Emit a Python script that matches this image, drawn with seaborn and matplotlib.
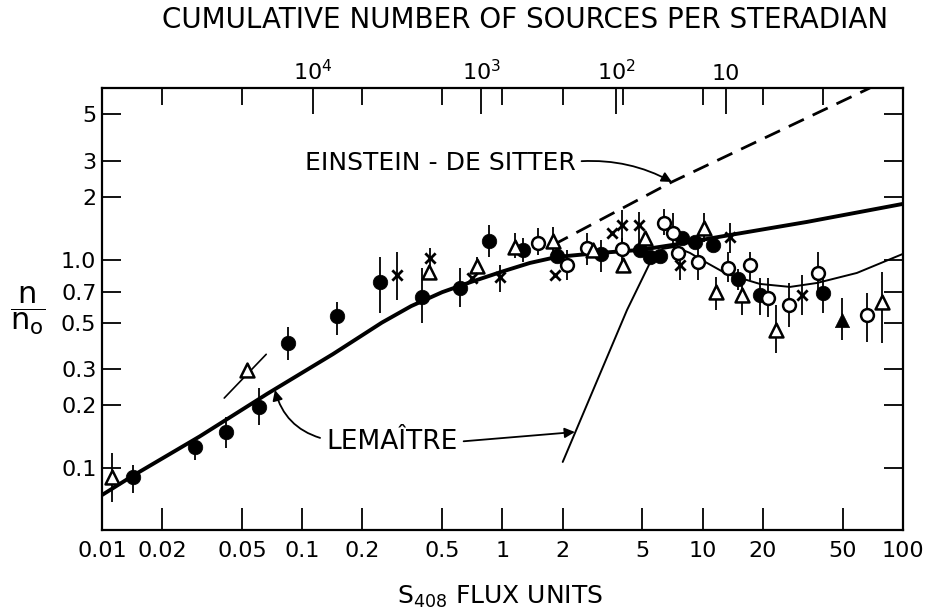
import matplotlib
matplotlib.use("Agg")
import matplotlib.pyplot as plt
import numpy as np
import pandas as pd
import seaborn as sns
from matplotlib.ticker import FixedLocator, NullLocator, NullFormatter

nan = float("nan")

# --- curves (S408 flux units, n/n0) ---
lemaitre_s = [0.0100, 0.0143, 0.0308, 0.0667, 0.1425, 0.25, 0.35, 0.50, 0.70, 1.00,
              1.37, 1.87, 3.07, 4.86, 7.10, 13.7, 33.2, 100.0]
lemaitre_n = [0.0742, 0.092, 0.142, 0.227, 0.353, 0.500, 0.600, 0.700, 0.785, 0.880,
              0.967, 1.034, 1.081, 1.117, 1.181, 1.318, 1.523, 1.859]

lemaitre2_s = [2.00, 4.19, 5.45, 6.27, 7.26, 8.63, 10.3, 13.2, 19.3, 27.3, 37.2, 58.9, 100.0]
lemaitre2_n = [0.107, 0.575, 0.967, 1.129, 1.155, 1.081, 0.978, 0.856, 0.767, 0.742, 0.775, 0.866, 1.069]

eds_s = [1.79, 7.02, 68.4]
eds_n = [1.18, 2.37, 6.70]

# --- observed points: flux, n/n0, error bar low, error bar high ---
fcirc_s = [0.0143, 0.0291, 0.0416, 0.0608, 0.0849, 0.149, 0.244, 0.396, 0.613, 0.857, 1.27,
           1.87, 3.10, 4.86, 5.45, 6.12, 7.87, 9.14, 11.2, 15.0, 19.3, 39.9]
fcirc_n = [0.091, 0.126, 0.149, 0.196, 0.399, 0.538, 0.784, 0.664, 0.733, 1.234, 1.117,
           1.045, 1.069, 1.117, 1.034, 1.045, 1.276, 1.22, 1.181, 0.811, 0.679, 0.694]
fcirc_lo = [0.076, 0.109, 0.125, 0.161, 0.331, 0.436, 0.556, 0.50, 0.594, 1.034, 0.978,
            nan, 0.876, nan, nan, nan, nan, nan, nan, 0.72, 0.544, 0.556]
fcirc_hi = [0.103, 0.139, 0.176, 0.243, 0.476, 0.628, 1.034, 0.915, 0.915, 1.473, 1.276,
            nan, 1.248, nan, nan, nan, nan, nan, nan, 0.90, 0.819, 0.819]

ftri_s = [49.6]
ftri_n = [0.515]
ftri_lo = [0.413]
ftri_hi = [0.657]

ocirc_s = [1.50, 2.10, 2.64, 3.95, 6.40, 7.10, 7.52, 9.47, 13.4, 17.2, 21.2, 27.0, 37.6, 66.1]
ocirc_n = [1.207, 0.946, 1.142, 1.129, 1.506, 1.349, 1.081, 0.978, 0.915, 0.946, 0.657, 0.608, 0.866, 0.544]
ocirc_lo = [1.057, 0.801, 0.946, 0.946, 1.318, 1.155, nan, 0.801, 0.784, 0.801, 0.532, 0.476, 0.679, 0.404]
ocirc_hi = [1.425, 1.117, 1.349, 1.276, 1.758, 1.683, nan, 1.155, 1.093, 1.093, 0.819, 0.775, 1.093, 0.694]

otri_s = [0.0112, 0.053, 0.430, 0.746, 1.15, 1.79, 2.83, 4.00, 5.15, 10.1, 11.6, 15.7, 23.2, 78.5]
otri_n = [0.0906, 0.296, 0.876, 0.936, 1.155, 1.234, 1.117, 0.946, 1.276, 1.425, 0.702, 0.679, 0.461, 0.628]
otri_lo = [0.0685, nan, nan, 0.847, 1.022, 1.057, nan, nan, nan, 1.22, 0.575, 0.544, 0.357, 0.399]
otri_hi = [0.118, nan, nan, 1.034, 1.349, 1.441, nan, nan, nan, 1.683, 0.829, 0.775, 0.608, 0.876]

# slope segment through the 0.05 f.u. triangle
slope_s = [0.0408, 0.0661]
slope_n = [0.217, 0.352]

cross_s = [0.297, 0.435, 0.705, 0.973, 1.83, 3.52, 3.95, 4.80, 7.70, 13.7, 31.3]
cross_n = [0.847, 1.022, 0.819, 0.829, 0.847, 1.349, 1.473, 1.473, 0.946, 1.290, 0.679]
cross_lo = [0.642, 0.876, nan, 0.70, nan, nan, 1.22, 1.155, 0.801, 1.081, 0.544]
cross_hi = [1.093, 1.142, nan, 0.946, nan, nan, 1.74, 1.70, 1.155, 1.506, 0.847]

# --- axis ticks ---
x_ticks = [0.01, 0.02, 0.05, 0.1, 0.2, 0.5, 1, 2, 5, 10, 20, 50, 100]
x_tick_labels = ["0.01", "0.02", "0.05", "0.1", "0.2", "0.5", "1", "2", "5", "10", "20", "50", "100"]
y_ticks = [5, 3, 2, 1.0, 0.7, 0.5, 0.3, 0.2, 0.1]
y_tick_labels = ["5", "3", "2", "1.0", "0.7", "0.5", "0.3", "0.2", "0.1"]
top_ticks = [0.113, 0.782, 3.69, 13.1]
top_tick_labels = [r"$\mathregular{10^4}$", r"$\mathregular{10^3}$", r"$\mathregular{10^2}$", "10"]
top_minor = [0.02, 0.05, 0.2, 0.5, 1, 2, 4, 10, 20, 40]

sns.set_theme(style="white")
plt.rcParams["font.family"] = ["DejaVu Sans"]
plt.rcParams["mathtext.fontset"] = "dejavusans"
plt.rcParams["text.color"] = "black"
plt.rcParams["axes.labelcolor"] = "black"
plt.rcParams["xtick.color"] = "black"
plt.rcParams["ytick.color"] = "black"

fig = plt.figure(figsize=(9.38, 6.15), dpi=100)
ax = fig.add_axes([0.1087, 0.1382, 0.8539, 0.7187])
ax.set_xscale("log")
ax.set_yscale("log")
ax.set_xlim(0.01, 100)
ax.set_ylim(0.0504, 6.7)

# theory curves
sns.lineplot(x=lemaitre_s, y=lemaitre_n, sort=False, estimator=None, color="black", linewidth=2.8, ax=ax)
sns.lineplot(x=lemaitre2_s, y=lemaitre2_n, sort=False, estimator=None, color="black", linewidth=1.4, ax=ax)
eds_line = sns.lineplot(x=eds_s, y=eds_n, sort=False, estimator=None, color="black", linewidth=2.0, ax=ax)
eds_line.lines[-1].set_dashes((6, 3.5))
ax.plot(slope_s, slope_n, color="black", linewidth=1.2)

# error bars
for s, lo, hi in [(fcirc_s, fcirc_lo, fcirc_hi), (ftri_s, ftri_lo, ftri_hi), (ocirc_s, ocirc_lo, ocirc_hi),
                  (otri_s, otri_lo, otri_hi), (cross_s, cross_lo, cross_hi)]:
    ax.vlines(s, lo, hi, color="black", linewidth=1.3, zorder=2)

# markers
sns.scatterplot(x=fcirc_s, y=fcirc_n, marker="o", s=110, color="black", edgecolor="black", linewidth=0.5, zorder=4, ax=ax)
sns.scatterplot(x=ftri_s, y=ftri_n, marker="^", s=105, color="black", edgecolor="black", linewidth=0.5, zorder=4, ax=ax)
sns.scatterplot(x=ocirc_s, y=ocirc_n, marker="o", s=85, facecolor="white", edgecolor="black", linewidth=1.8, zorder=4, ax=ax)
sns.scatterplot(x=otri_s, y=otri_n, marker="^", s=100, facecolor="white", edgecolor="black", linewidth=1.8, zorder=4, ax=ax)
sns.scatterplot(x=cross_s, y=cross_n, marker="x", s=55, color="black", linewidth=2.0, zorder=4, ax=ax)

# annotations
arrow = dict(arrowstyle="-|>", color="black", linewidth=1.3, mutation_scale=15, shrinkA=2, shrinkB=0)
ax.annotate("EINSTEIN - DE SITTER", xy=(7.02, 2.37), xytext=(0.103, 2.93), fontsize=18,
            ha="left", va="center",
            arrowprops=dict(arrow, relpos=(1.0, 0.55), connectionstyle="arc3,rad=-0.15"))
ax.annotate("LEMAÎTRE", xy=(0.0731, 0.237), xytext=(0.1315, 0.1333), fontsize=19,
            ha="left", va="center",
            arrowprops=dict(arrow, relpos=(0.0, 0.6), connectionstyle="arc3,rad=-0.3"))
ax.annotate("", xy=(2.30, 0.149), xytext=(0.64, 0.1345),
            arrowprops=dict(arrow, shrinkA=0))

# axes styling
ax.xaxis.set_major_locator(FixedLocator(x_ticks))
ax.xaxis.set_minor_locator(NullLocator())
ax.set_xticklabels(x_tick_labels)
ax.yaxis.set_major_locator(FixedLocator(y_ticks))
ax.yaxis.set_minor_locator(NullLocator())
ax.set_yticklabels(y_tick_labels)
ax.tick_params(axis="x", which="major", direction="in", length=16, width=1.3, colors="black",
               bottom=True, top=False, labelsize=16, pad=8)
ax.tick_params(axis="y", which="major", direction="in", length=14, width=1.3, colors="black",
               left=True, right=True, labelsize=16, pad=4)
for sp in ax.spines.values():
    sp.set_color("black")
    sp.set_linewidth(1.6)

ax_top = ax.twiny()
ax_top.set_xscale("log")
ax_top.set_xlim(ax.get_xlim())
ax_top.xaxis.set_major_locator(FixedLocator(top_ticks))
ax_top.set_xticklabels(top_tick_labels)
ax_top.xaxis.set_minor_locator(FixedLocator(top_minor))
ax_top.xaxis.set_minor_formatter(NullFormatter())
ax_top.tick_params(axis="x", which="major", direction="in", length=19, width=1.3, colors="black",
                   top=True, bottom=False, labelsize=16, pad=3)
ax_top.tick_params(axis="x", which="minor", direction="in", length=12, width=1.3, colors="black",
                   top=True, bottom=False)
for sp in ax_top.spines.values():
    sp.set_visible(False)

fig.text(525 / 938, 1 - 20 / 615, "CUMULATIVE NUMBER OF SOURCES PER STERADIAN",
         ha="center", va="center", fontsize=20)
fig.text(500 / 938, 1 - 597 / 615, r"$\mathregular{S_{408}}$ FLUX UNITS",
         ha="center", va="center", fontsize=18)
fig.text(28 / 938, 1 - 311 / 615, r"$\dfrac{\mathregular{n}}{\mathregular{n_o}}$",
         ha="center", va="center", fontsize=22)

fig.savefig("out.png", dpi=100, facecolor="white")
